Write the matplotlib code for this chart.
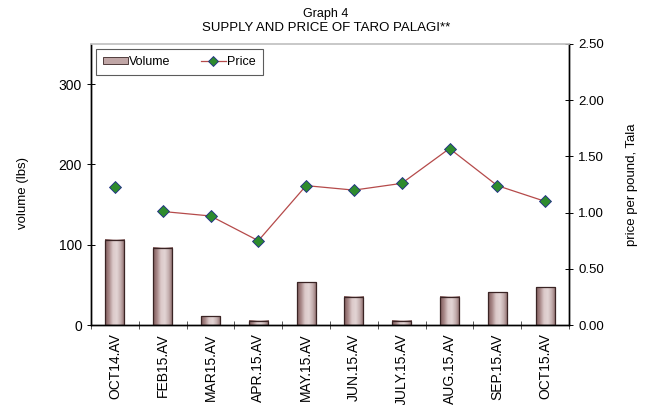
import matplotlib
matplotlib.use("Agg")
import matplotlib.pyplot as plt
from matplotlib.colors import LinearSegmentedColormap
from matplotlib.lines import Line2D
from matplotlib.patches import Patch
import numpy as np

plt.rcParams["font.family"] = ["Liberation Sans", "DejaVu Sans"]

periods = ["OCT14.AV", "FEB15.AV", "MAR15.AV", "APR.15.AV", "MAY.15.AV",
           "JUN.15.AV", "JULY.15.AV", "AUG.15.AV", "SEP.15.AV", "OCT15.AV"]
volume = [106, 96, 11, 5, 53, 35, 5, 35, 41, 47]
price = [1.23, 1.01, 0.97, 0.75, 1.24, 1.20, 1.26, 1.57, 1.24, 1.10]

BAR_EDGE = "#3a2424"
LINE_RED = "#b54a4a"
MARK_GREEN = "#2e8b2e"
MARK_EDGE = "#1f2a8a"

# cylinder-style shading across each bar
shade = LinearSegmentedColormap.from_list(
    "cyl", ["#7e5a5a", "#a88888", "#dccaca", "#e2d4d4", "#c4aeae", "#8a6868"])

fig = plt.figure(figsize=(6.52, 4.05), dpi=100)
ax = fig.add_axes([0.1396, 0.1975, 0.7331, 0.6939])
ax2 = ax.twinx()

x = np.arange(len(periods))
bars = ax.bar(x, volume, width=0.4, facecolor="none", edgecolor=BAR_EDGE,
              linewidth=0.9, zorder=3)
grad = np.linspace(0, 1, 64).reshape(1, -1)
for b in bars:
    x0, w, h = b.get_x(), b.get_width(), b.get_height()
    ax.imshow(grad, cmap=shade, aspect="auto", extent=(x0, x0 + w, 0, h),
              zorder=2, interpolation="bilinear")

ax.set_xlim(-0.5, len(periods) - 0.5)
ax.set_ylim(0, 350)
ax.set_yticks([0, 100, 200, 300])
ax.set_xticks(np.arange(-0.5, len(periods)), minor=False)
ax.set_xticklabels([])
ax.set_xticks(x, minor=True)
ax.set_xticklabels(periods, minor=True, rotation=90, fontsize=10)
ax.tick_params(axis="x", which="major", direction="inout", length=6, width=0.7,
               color="#555555")
ax.tick_params(axis="x", which="minor", length=0, pad=6)
ax.tick_params(axis="y", direction="inout", length=6, width=0.7,
               labelsize=10)
ax.set_ylabel("volume (lbs)", fontsize=9.5)
ax.yaxis.set_label_coords(-0.13, 0.47)

# price line: OCT14 stands alone, the rest are joined
ax2.plot(x[1:], price[1:], color=LINE_RED, linewidth=0.9, zorder=4)
ax2.plot(x, price, linestyle="none", marker="D", markersize=6,
         markerfacecolor=MARK_GREEN, markeredgecolor=MARK_EDGE,
         markeredgewidth=0.6, zorder=5)
ax2.set_ylim(0, 2.5)
ax2.set_yticks([0, 0.5, 1.0, 1.5, 2.0, 2.5])
ax2.set_yticklabels([f"{v:.2f}" for v in [0, 0.5, 1.0, 1.5, 2.0, 2.5]])
ax2.tick_params(axis="y", direction="inout", length=6, width=0.7,
                labelsize=9.5)
ax2.set_ylabel("price per pound, Tala", fontsize=9.5, labelpad=16)

for a in (ax, ax2):
    a.spines["top"].set_color("#c8c8c8")
    a.spines["top"].set_linewidth(1.2)
    a.spines["left"].set_linewidth(1.0)
    a.spines["right"].set_linewidth(1.0)
    a.spines["bottom"].set_linewidth(1.0)

handles = [Patch(facecolor="#c0a6a6", edgecolor=BAR_EDGE, linewidth=0.6),
           Line2D([], [], color=LINE_RED, linewidth=0.9, marker="D",
                  markersize=5, markerfacecolor=MARK_GREEN,
                  markeredgecolor=MARK_EDGE, markeredgewidth=0.6)]
leg = ax2.legend(handles, ["Volume", "Price"], loc="upper left",
                 bbox_to_anchor=(0.011, 0.982), ncol=2, fontsize=9,
                 frameon=True, fancybox=False, edgecolor="#333333",
                 handlelength=2.0, handleheight=0.6, handletextpad=0.1,
                 columnspacing=2.4, borderpad=0.55, borderaxespad=0)
leg.get_frame().set_linewidth(0.8)

fig.text(0.5, 0.966, "Graph 4", ha="center", va="center", fontsize=9)
fig.text(0.5, 0.931, "SUPPLY AND PRICE OF TARO PALAGI**", ha="center",
         va="center", fontsize=9.5)

fig.savefig("out.png", dpi=100)
